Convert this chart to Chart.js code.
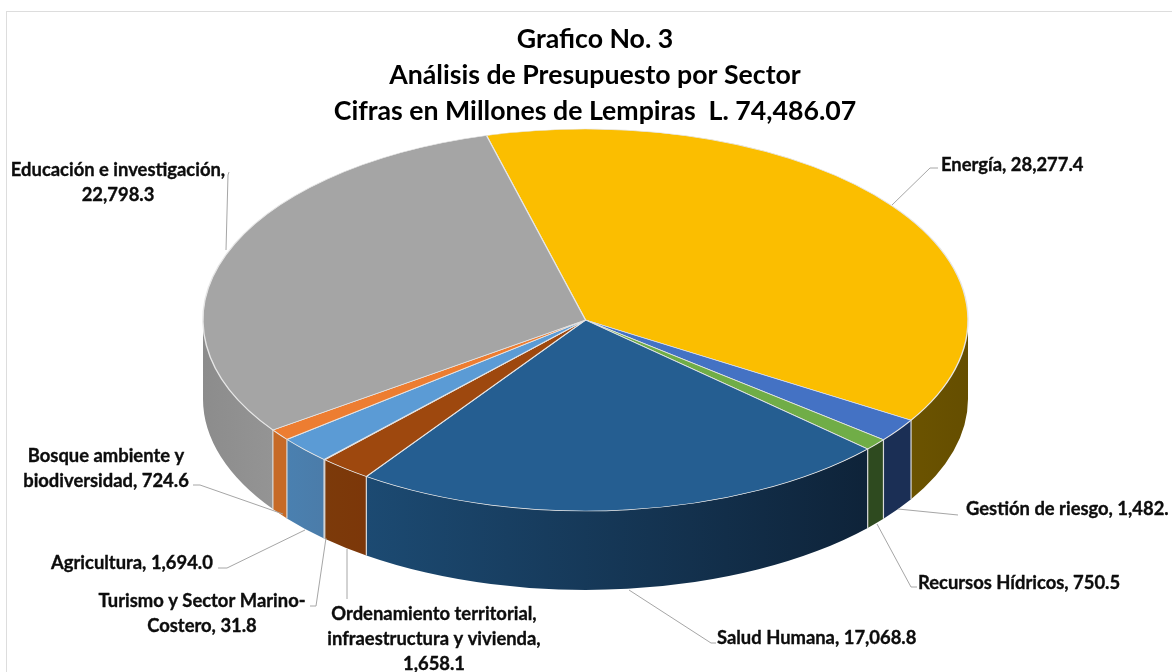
<!DOCTYPE html>
<html lang="es">
<head>
<meta charset="utf-8">
<title>Grafico No. 3</title>
<style>html,body{margin:0;padding:0;background:#fff;overflow:hidden}canvas{display:block}</style>
<script src="https://cdn.jsdelivr.net/npm/chart.js@4"></script>
</head>
<body>
<canvas id="c" width="1172" height="672"></canvas>
<script>
const sectors = ["Energía","Gestión de riesgo","Recursos Hídricos","Salud Humana","Ordenamiento territorial, infraestructura y vivienda","Turismo y Sector Marino-Costero","Agricultura","Bosque ambiente y biodiversidad","Educación e investigación"];
const values = [28277.4,1482.6,750.5,17068.8,1658.1,31.8,1694.0,724.6,22798.3];
const topColors = ["#FBBE00","#4472C4","#70AD47","#255E91","#9E480E","#636363","#5B9BD5","#ED7D31","#A5A5A5"];
const wallLeft  = ["#6B5300","#1B2F55","#2E4A1F","#1C4A72","#7C3A0A","#4A4A4A","#4A80B0","#C66A27","#8C8C8C"];
const wallRight = ["#654E00","#1B2F55","#2E4A1F","#0E2339","#7C3709","#4A4A4A","#4B7CA9","#C66A27","#949494"];
const titleLines = ["Grafico No. 3","Análisis de Presupuesto por Sector","Cifras en Millones de Lempiras  L. 74,486.07"];
const labelLines = [
  ["Energía, 28,277.4"],
  ["Gestión de riesgo, 1,482."],
  ["Recursos Hídricos, 750.5"],
  ["Salud Humana, 17,068.8"],
  ["Ordenamiento territorial,","infraestructura y vivienda,","1,658.1"],
  ["Turismo y Sector Marino-","Costero, 31.8"],
  ["Agricultura, 1,694.0"],
  ["Bosque ambiente y","biodiversidad, 724.6"],
  ["Educación e investigación,","22,798.3"]
];

const PIE = {cx:585.5, cy:320, rx:382.5, ry:191, depth:79};
const FONT = "Lato, 'Open Sans', sans-serif";
const LABEL_LAYOUT = [
  {align:"left",  x:941, y:165, leader:[[892,205],[930,168],[938,168]]},
  {align:"left",  x:966, y:509, leader:[[898,509],[958,515]]},
  {align:"left",  x:918, y:583, leader:[[877,524],[911,587],[917,587]]},
  {align:"left",  x:717, y:638, leader:[[629,590],[711,643],[716,643]]},
  {align:"center",x:434, y:614, leader:[[347,549],[347,599]]},
  {align:"center",x:202, y:601, leader:[[326,538],[316,606],[310,606]]},
  {align:"left",  x:51,  y:563, leader:[[305,530],[227,568],[218,568]]},
  {align:"center",x:106, y:456, leader:[[283,514],[200,485],[193,485]]},
  {align:"center",x:118, y:170, leader:[[226,250],[228,175],[229,172]]}
];

const pie3d = {
  id:"pie3d",
  beforeDraw(chart){
    const c = chart.ctx;
    c.save();
    c.fillStyle="#fff"; c.fillRect(0,0,chart.width,chart.height);
    c.strokeStyle="#DDDDDD"; c.lineWidth=1;
    c.strokeRect(6.5,11.5,1300,800);
    c.restore();
  },
  beforeDatasetsDraw(chart){
    const c = chart.ctx, els = chart.getDatasetMeta(0).data;
    const {cx,cy,rx,ry,depth} = PIE;
    els.forEach((el,i)=>{
      const a1 = Math.max(el.startAngle,0), a2 = Math.min(el.endAngle,Math.PI);
      if (a2<=a1) return;
      const x1 = cx+rx*Math.cos(a1), x2 = cx+rx*Math.cos(a2);
      const g = c.createLinearGradient(x2,0,x1,0);
      g.addColorStop(0,wallLeft[i]); g.addColorStop(1,wallRight[i]);
      c.beginPath();
      c.ellipse(cx,cy,rx,ry,0,a1,a2,false);
      c.ellipse(cx,cy+depth,rx,ry,0,a2,a1,true);
      c.closePath();
      c.fillStyle=g; c.fill();
    });
    c.strokeStyle="#D9D9D9"; c.lineWidth=1.2;
    els.forEach(el=>{
      const a = el.endAngle;
      if (a>0 && a<Math.PI){
        const x = cx+rx*Math.cos(a), y = cy+ry*Math.sin(a);
        c.beginPath(); c.moveTo(x,y); c.lineTo(x,y+depth); c.stroke();
      }
    });
    const el = els[0], r = el.outerRadius;
    c.save();
    c.translate(cx,cy);
    c.scale(rx/r,ry/r);
    c.translate(-el.x,-el.y);
  },
  afterDatasetsDraw(chart){
    const c = chart.ctx;
    c.restore();
    c.save();
    c.strokeStyle="#A6A6A6"; c.lineWidth=1;
    LABEL_LAYOUT.forEach(l=>{
      c.beginPath();
      l.leader.forEach((p,j)=> j? c.lineTo(p[0],p[1]) : c.moveTo(p[0],p[1]));
      c.stroke();
    });
    c.fillStyle="#0D0D0D";
    c.strokeStyle="#0D0D0D"; c.lineWidth=0.35; c.lineJoin="round";
    c.font="bold 18.4px "+FONT;
    c.textBaseline="middle";
    LABEL_LAYOUT.forEach((l,i)=>{
      c.textAlign=l.align;
      labelLines[i].forEach((t,j)=>{c.fillText(t,l.x,l.y+j*25);c.strokeText(t,l.x,l.y+j*25);});
    });
    c.restore();
  }
};

new Chart(document.getElementById("c"),{
  type:"pie",
  data:{labels:sectors,datasets:[{data:values,backgroundColor:topColors,borderColor:"#E6E6E6",borderWidth:1,clip:false}]},
  options:{
    responsive:false,animation:false,
    rotation:-15,
    events:[],
    layout:{padding:{left:18}},
    plugins:{
      legend:{display:false},tooltip:{enabled:false},
      title:{display:true,text:titleLines,color:"#000",
        font:{family:FONT,size:26.7,weight:"bold",lineHeight:1.35},
        padding:{top:21.5,bottom:0}}
    }
  },
  plugins:[pie3d]
});
</script>
</body>
</html>
